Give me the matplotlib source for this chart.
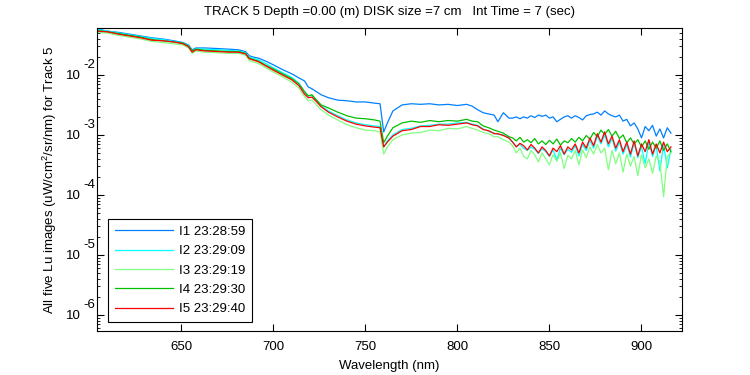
import numpy as np
import matplotlib
matplotlib.use("Agg")
import matplotlib.pyplot as plt
import matplotlib.transforms as mtransforms
from matplotlib.ticker import LogLocator, FixedLocator, NullFormatter, FuncFormatter

plt.rcParams["font.family"] = ["Liberation Sans", "DejaVu Sans"]
plt.rcParams["mathtext.default"] = "regular"
plt.rcParams["font.size"] = 9.5

# wavelength grid (nm)
wl_main = [604, 610, 616, 622, 628, 634, 640, 646,
           651, 654, 656, 658, 663, 670, 676, 681,
           685, 687, 689, 692, 696, 700, 705, 710,
           714, 717, 719, 721, 723, 726, 730, 735,
           740, 745, 750, 755, 758, 760, 762, 765,
           770, 775, 780, 785, 790, 795, 800, 805,
           808, 811, 814, 817, 820, 822, 825, 828]
wl_tail = [830, 832, 834, 836, 838, 840, 842, 844, 846, 848,
           850, 852, 854, 856, 858, 860, 862, 864, 866, 868,
           870, 872, 874, 876, 878, 880, 882, 884, 886, 888,
           890, 892, 894, 896, 898, 900, 902, 904, 906, 908,
           910, 912, 914, 916]

# log10 of Lu (uW/cm^2/sr/nm)
i1_main = [-1.23, -1.27, -1.29, -1.32, -1.35, -1.38, -1.40, -1.43,
           -1.46, -1.50, -1.58, -1.55, -1.55, -1.56, -1.57, -1.58,
           -1.61, -1.68, -1.70, -1.72, -1.77, -1.83, -1.91, -1.98,
           -2.05, -2.10, -2.20, -2.23, -2.27, -2.33, -2.38, -2.42,
           -2.43, -2.45, -2.45, -2.47, -2.48, -2.95, -2.80, -2.60,
           -2.50, -2.48, -2.49, -2.48, -2.50, -2.49, -2.51, -2.49,
           -2.52, -2.58, -2.63, -2.65, -2.67, -2.78, -2.63, -2.72]
i1_tail = [-2.72, -2.70, -2.73, -2.70, -2.72, -2.68, -2.71, -2.67, -2.69, -2.67,
           -2.72, -2.70, -2.78, -2.74, -2.70, -2.68, -2.72, -2.68, -2.71, -2.75,
           -2.68, -2.66, -2.65, -2.62, -2.67, -2.60, -2.65, -2.68, -2.70, -2.67,
           -2.77, -2.74, -2.85, -2.80, -2.90, -3.05, -2.86, -2.93, -2.84, -3.02,
           -2.90, -3.05, -2.88, -2.97]

i2_main = [-1.24, -1.27, -1.30, -1.33, -1.36, -1.39, -1.41, -1.44,
           -1.47, -1.51, -1.60, -1.56, -1.57, -1.58, -1.59, -1.60,
           -1.63, -1.71, -1.72, -1.75, -1.81, -1.88, -1.96, -2.04,
           -2.14, -2.28, -2.35, -2.34, -2.41, -2.51, -2.60, -2.68,
           -2.75, -2.80, -2.83, -2.85, -2.86, -3.20, -3.10, -3.00,
           -2.91, -2.89, -2.85, -2.84, -2.82, -2.82, -2.80, -2.79,
           -2.82, -2.84, -2.90, -2.94, -2.97, -2.99, -3.00, -3.06]
i2_tail = [-3.12, -3.19, -3.16, -3.22, -3.26, -3.20, -3.24, -3.31, -3.23, -3.28,
           -3.36, -3.25, -3.42, -3.22, -3.33, -3.24, -3.29, -3.18, -3.35, -3.16,
           -3.26, -3.09, -3.22, -3.02, -3.15, -3.00, -3.20, -3.06, -3.27, -3.12,
           -3.32, -3.16, -3.37, -3.14, -3.38, -3.20, -3.48, -3.12, -3.36, -3.18,
           -3.60, -3.15, -3.55, -3.24]

i3_main = [-1.29, -1.30, -1.34, -1.37, -1.40, -1.44, -1.46, -1.48,
           -1.50, -1.55, -1.64, -1.60, -1.62, -1.63, -1.64, -1.64,
           -1.67, -1.76, -1.78, -1.81, -1.88, -1.95, -2.03, -2.12,
           -2.22, -2.36, -2.43, -2.42, -2.48, -2.58, -2.67, -2.75,
           -2.83, -2.88, -2.92, -2.93, -2.95, -3.32, -3.20, -3.08,
           -3.00, -2.97, -2.96, -2.92, -2.93, -2.89, -2.90, -2.86,
           -2.89, -2.92, -2.96, -2.98, -3.03, -3.03, -3.08, -3.12]
i3_tail = [-3.18, -3.30, -3.22, -3.36, -3.40, -3.26, -3.33, -3.45, -3.30, -3.40,
           -3.50, -3.33, -3.44, -3.30, -3.56, -3.34, -3.40, -3.26, -3.50, -3.25,
           -3.38, -3.20, -3.32, -3.16, -3.30, -3.22, -3.58, -3.26, -3.48, -3.30,
           -3.62, -3.32, -3.52, -3.36, -3.68, -3.33, -3.55, -3.40, -3.64, -3.35,
           -3.45, -4.03, -3.36, -3.30]

i4_main = [-1.26, -1.28, -1.31, -1.34, -1.37, -1.41, -1.43, -1.45,
           -1.47, -1.52, -1.60, -1.57, -1.59, -1.60, -1.61, -1.61,
           -1.64, -1.72, -1.74, -1.77, -1.84, -1.90, -1.98, -2.06,
           -2.15, -2.28, -2.35, -2.33, -2.40, -2.50, -2.55, -2.62,
           -2.68, -2.72, -2.73, -2.75, -2.77, -3.13, -3.02, -2.88,
           -2.80, -2.77, -2.79, -2.76, -2.78, -2.76, -2.77, -2.74,
           -2.77, -2.78, -2.85, -2.88, -2.92, -2.94, -2.97, -3.03]
i4_tail = [-3.05, -3.10, -3.04, -3.12, -3.08, -3.13, -3.06, -3.15, -3.10, -3.16,
           -3.09, -3.15, -3.07, -3.17, -3.10, -3.13, -3.06, -3.12, -3.04, -3.10,
           -3.01, -3.07, -2.96, -3.03, -2.92, -2.99, -2.91, -3.02, -2.94, -3.06,
           -3.00, -3.13, -3.05, -3.15, -3.08, -3.20, -3.10, -3.24, -3.12, -3.22,
           -3.10, -3.26, -3.15, -3.28]

i5_main = [-1.27, -1.28, -1.32, -1.35, -1.38, -1.42, -1.43, -1.45,
           -1.48, -1.53, -1.62, -1.58, -1.60, -1.61, -1.62, -1.62,
           -1.65, -1.73, -1.75, -1.78, -1.85, -1.92, -2.00, -2.08,
           -2.18, -2.32, -2.38, -2.37, -2.43, -2.53, -2.62, -2.70,
           -2.77, -2.82, -2.85, -2.87, -2.88, -3.20, -3.12, -3.02,
           -2.93, -2.91, -2.86, -2.86, -2.83, -2.84, -2.82, -2.80,
           -2.83, -2.85, -2.91, -2.93, -2.98, -2.98, -3.01, -3.05]
i5_tail = [-3.12, -3.20, -3.14, -3.18, -3.25, -3.16, -3.22, -3.30, -3.20, -3.26,
           -3.35, -3.22, -3.28, -3.18, -3.32, -3.20, -3.25, -3.15, -3.30, -3.12,
           -3.22, -3.05, -3.18, -2.98, -3.12, -2.95, -3.15, -3.02, -3.22, -3.08,
           -3.28, -3.12, -3.32, -3.10, -3.35, -3.15, -3.28, -3.08, -3.32, -3.15,
           -3.30, -3.12, -3.28, -3.20]

labels = ["I1 23:28:59", "I2 23:29:09", "I3 23:29:19", "I4 23:29:30", "I5 23:29:40"]
colors = ["#0080ff", "#00ffff", "#80ff80", "#00c000", "#ff0000"]
decades = [-6, -5, -4, -3, -2]
xticks = [650, 700, 750, 800, 850, 900]

wl = np.array(wl_main + wl_tail)
series = [i1_main + i1_tail, i2_main + i2_tail, i3_main + i3_tail,
          i4_main + i4_tail, i5_main + i5_tail]

fig = plt.figure(figsize=(7.5, 3.75), dpi=100)
ax = fig.add_axes([97 / 750, 44 / 375, 585 / 750, 303 / 375])

for vals, lab, col in zip(series, labels, colors):
    ax.plot(wl, 10.0 ** np.array(vals), color=col, lw=0.9, label=lab)

ax.set_yscale("log")
ax.set_xlim(604.3, 922)
ax.set_ylim(10 ** -6.27, 10 ** -1.217)
ax.xaxis.set_major_locator(FixedLocator(xticks))
ax.yaxis.set_major_locator(FixedLocator([10.0 ** d for d in decades]))
ax.yaxis.set_major_formatter(FuncFormatter(lambda v, p: "10"))
ax.yaxis.set_minor_locator(LogLocator(base=10, subs=np.arange(2, 10), numticks=12))
ax.yaxis.set_minor_formatter(NullFormatter())
ax.tick_params(which="both", direction="in", top=True, right=True, labelsize=9.5)
ax.tick_params(which="major", length=5, width=0.8)
ax.tick_params(which="minor", length=2.5, width=0.6)
ax.tick_params(axis="x", pad=7)
ax.tick_params(axis="y", pad=12)
for sp in ax.spines.values():
    sp.set_linewidth(0.8)

# MATLAB-style exponents, full size and raised
trans = ax.get_yaxis_transform() + mtransforms.ScaledTranslation(-2 / 100, 10 / 100, fig.dpi_scale_trans)
for d in decades:
    ax.text(0, 10.0 ** d, str(d), transform=trans, ha="right", va="center", fontsize=9.5)

ax.set_xlabel("Wavelength (nm)", fontsize=9.5, labelpad=5)
ax.set_ylabel("All five Lu images (uW/cm$^2$/sr/nm) for Track 5", fontsize=9.5, labelpad=5)
ax.set_title("TRACK 5 Depth =0.00 (m) DISK size =7 cm   Int Time = 7 (sec)", fontsize=9.5, pad=9)

leg = ax.legend(loc="lower left", bbox_to_anchor=(11 / 585, 9 / 303), fancybox=False,
                framealpha=1, edgecolor="black", fontsize=9.5, handlelength=4.4,
                handletextpad=0.5, borderaxespad=0, labelspacing=0.54, borderpad=0.5)
leg.get_frame().set_linewidth(0.8)

fig.savefig("out.png", dpi=100)
